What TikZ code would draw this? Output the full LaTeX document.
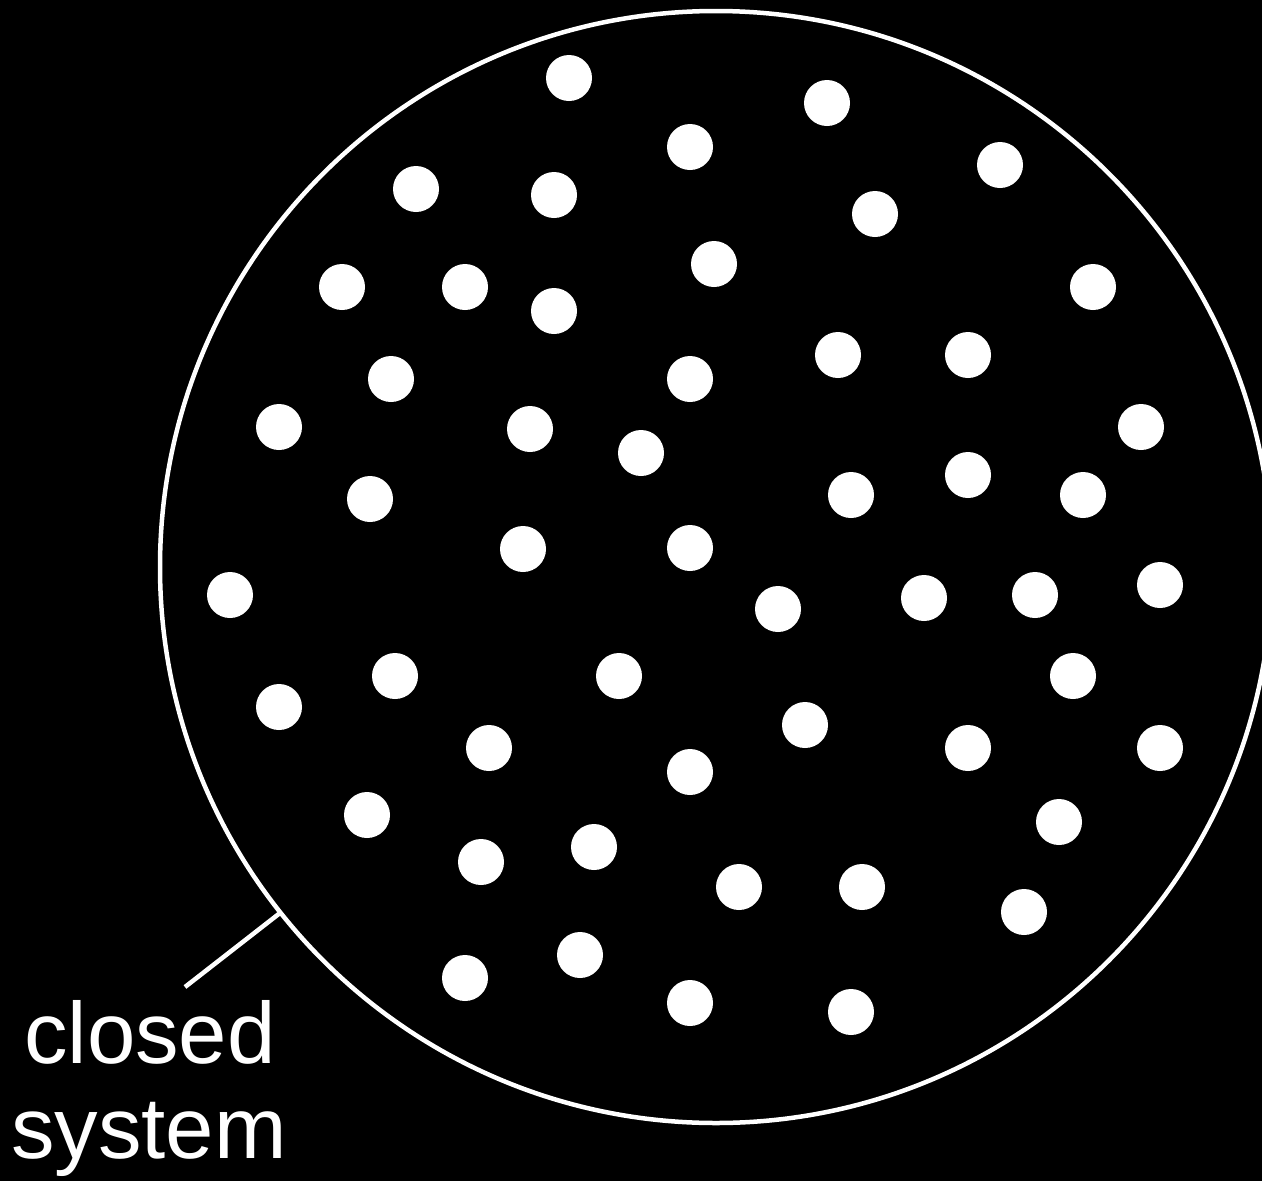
\documentclass[tikz,border=0pt]{standalone}
\usepackage{fontspec}
\setmainfont{Liberation Sans}
\begin{document}
\begin{tikzpicture}[x=1pt,y=-1pt,
  dot/.style={circle,fill=white,inner sep=0pt,minimum size=46pt},
  lbl/.style={text=white,font=\fontsize{87}{96}\selectfont,inner sep=0pt,anchor=base},
  wline/.style={draw=white,line width=4.5pt}]
\useasboundingbox (0,0) rectangle (1262,1181);
\clip (0,0) rectangle (1262,1181);
\fill[black] (0,0) rectangle (1262,1181);
\node[circle,wline,minimum size=1112pt,inner sep=0pt] (sys) at (716,567) {};
\foreach \x/\y [count=\i] in {569/78,827/103,690/147,1000/165,416/189,554/195,875/214,714/264,342/287,465/287,1093/287,554/311,838/355,968/355,391/379,690/379,279/427,530/429,1141/427,641/453,370/499,851/495,968/475,1083/495,523/549,690/548,230/595,778/609,924/598,1035/595,1160/585,395/676,619/676,1073/676,279/707,805/725,489/748,690/772,968/748,1160/748,367/815,1059/822,594/847,481/862,739/887,862/887,1024/912,580/955,465/978,690/1003,851/1012}
  \node[dot] (d\i) at (\x,\y) {};
\node[lbl] (l1) at (150,1063) {closed};
\node[lbl] (l2) at (149,1158) {system};
\coordinate (tip) at (185,987);
\coordinate (touch) at (280,913);
\draw[white,line width=4.5pt] (tip) -- (touch);
\end{tikzpicture}
\end{document}
